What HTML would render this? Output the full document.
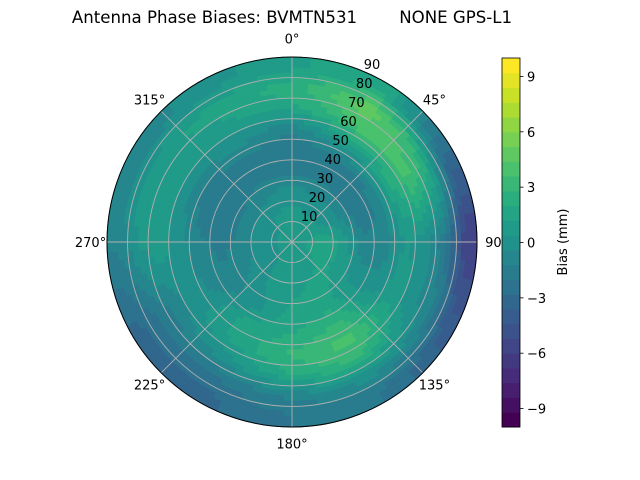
<!DOCTYPE html>
<html><head><meta charset="utf-8"><style>
body{margin:0;background:#fff;}
svg{display:block;font-family:"DejaVu Sans","Liberation Sans",sans-serif;}
</style></head><body>
<svg id="chart" width="640" height="480" viewBox="0 0 640 480">
<text x="292" y="23" font-size="16.6" text-anchor="middle" style="white-space:pre" xml:space="preserve">Antenna Phase Biases: BVMTN531        NONE GPS-L1</text>
<g id="plot"></g>
<g id="cbar"></g>
</svg>
<script>
// Data: azimuth (deg, clockwise from north), zenith ring centres (deg), bias values (mm)
const azimuths = [0,30,60,90,120,150,180,210,240,270,300,330];
const zeniths = [5,15,25,35,45,55,65,75,85];
const biasAz0   = [0.5,0.5,0,-1.5,-2,-1,1.5,2.5,1];
const biasAz30  = [0.5,0.5,-0.5,-1.5,-1.5,1,4,5,2];
const biasAz60  = [0.5,0.5,-0.5,-2,-1,2,4,2,-3];
const biasAz90  = [1,2,1,-1,-1,0.5,0,-2,-6];
const biasAz120 = [1,1.5,1,0,0,1,0,-1,-4];
const biasAz150 = [0.5,1,1.5,1.5,3,4,3,0,-2];
const biasAz180 = [0.5,1,1,1.5,2,3,2,-1,-2];
const biasAz210 = [0.5,0.5,0.5,0,1.5,1.5,0,-2,-3];
const biasAz240 = [0.5,0,-0.5,-1,-0.5,0,-1,-2,-3];
const biasAz270 = [0.5,0,-1,-1.5,-1,0,1,0.5,-1];
const biasAz300 = [0.5,0,-1,-2,-2,-0.5,1,1,-1];
const biasAz330 = [0.5,0.5,-0.5,-1.5,-1.5,0,1,1.5,0];
const biasGrid = [biasAz0,biasAz30,biasAz60,biasAz90,biasAz120,biasAz150,biasAz180,biasAz210,biasAz240,biasAz270,biasAz300,biasAz330];
const colorTicks = [-9,-6,-3,0,3,6,9];
const ringTicks = [10,20,30,40,50,60,70,80,90];
const angleTicks = [0,45,90,135,180,225,270,315];

const NS="http://www.w3.org/2000/svg";
const CX=292, CY=242, R=185, VMIN=-10, VMAX=10, NLEV=25;
const stops=["#440154","#482475","#414487","#355f8d","#2a788e","#21918c","#22a884","#44bf70","#7ad151","#bddf26","#fde725"];
function hex(c){return [1,3,5].map(i=>parseInt(c.substr(i,2),16));}
function viridis(t){t=Math.max(0,Math.min(1,t));const f=t*10,i=Math.min(9,Math.floor(f)),u=f-i;const a=hex(stops[i]),b=hex(stops[i+1]);return "rgb("+a.map((v,k)=>Math.round(v+(b[k]-v)*u)).join(",")+")";}
function levelColor(v){let i=Math.floor((v-VMIN)/((VMAX-VMIN)/NLEV));i=Math.max(0,Math.min(NLEV-1,i));return viridis(i/(NLEV-1));}
function rScale(z){return z/90*R;}
function pt(az,z){const a=az*Math.PI/180,r=rScale(z);return [CX+r*Math.sin(a),CY-r*Math.cos(a)];}
function sample(az,z){
  const n=azimuths.length, step=360/n;
  let fa=((az%360)+360)%360/step; const i0=Math.floor(fa)%n,i1=(i0+1)%n,ua=fa-Math.floor(fa);
  let fz=(z-zeniths[0])/(zeniths[1]-zeniths[0]); fz=Math.max(0,Math.min(zeniths.length-1,fz));
  const j0=Math.min(zeniths.length-2,Math.floor(fz)),uz=fz-j0;
  const v=(g,j)=>g[j]*(1-uz)+g[j+1]*uz;
  return v(biasGrid[i0],j0)*(1-ua)+v(biasGrid[i1],j0)*ua;
}
const plot=document.getElementById('plot');
const DA=3, DZ=2.5;
for(let az=0;az<360;az+=DA){
  for(let z=0;z<90;z+=DZ){
    const val=sample(az+DA/2,z+DZ/2);
    const p1=pt(az,z),p2=pt(az+DA,z),p3=pt(az+DA,z+DZ),p4=pt(az,z+DZ);
    const col=levelColor(val);
    const el=document.createElementNS(NS,'path');
    el.setAttribute('d',`M${p1}L${p2}L${p3}L${p4}Z`);
    el.setAttribute('fill',col);
    el.setAttribute('stroke',col);
    el.setAttribute('stroke-width','0.8');
    
    
    plot.appendChild(el);
  }
}
const gridG=document.createElementNS(NS,'g');
plot.appendChild(gridG);
angleTicks.forEach(a=>{
  const p=pt(a,90);
  const l=document.createElementNS(NS,'line');
  l.setAttribute('x1',CX);l.setAttribute('y1',CY);l.setAttribute('x2',p[0]);l.setAttribute('y2',p[1]);
  l.setAttribute('stroke','#b0b0b0');l.setAttribute('stroke-width','0.9');
  
  
  gridG.appendChild(l);
  const q=pt(a,98);
  const tx=document.createElementNS(NS,'text');
  tx.setAttribute('x',q[0]);tx.setAttribute('y',q[1]+5);tx.setAttribute('font-size','13');
  tx.setAttribute('text-anchor','middle');
  tx.textContent=a+'°';
  if(a===90){tx.textContent='90';tx.setAttribute('x',q[0]);}
  if(a===0){tx.setAttribute('y',q[1]+3);}
  
  
  gridG.appendChild(tx);
});
ringTicks.forEach(t=>{
  const c=document.createElementNS(NS,'circle');
  c.setAttribute('cx',CX);c.setAttribute('cy',CY);c.setAttribute('r',rScale(t));
  c.setAttribute('fill','none');c.setAttribute('stroke',t===90?'#000':'#b0b0b0');c.setAttribute('stroke-width',t===90?1:0.9);
  
  
  gridG.appendChild(c);
  const p=pt(22.5,t);
  const tx=document.createElementNS(NS,'text');
  tx.setAttribute('x',p[0]+1);tx.setAttribute('y',p[1]-2);tx.setAttribute('font-size','13');
  tx.textContent=t;
  
  
  gridG.appendChild(tx);
});
// colorbar
const cb=document.getElementById('cbar');
const BX=502,BW=18,BT=58,BB=427;
function cy(v){return BB-(v-VMIN)/(VMAX-VMIN)*(BB-BT);}
for(let i=0;i<NLEV;i++){
  const v0=VMIN+i*(VMAX-VMIN)/NLEV,v1=v0+(VMAX-VMIN)/NLEV;
  const r=document.createElementNS(NS,'rect');
  r.setAttribute('x',BX);r.setAttribute('y',cy(v1));r.setAttribute('width',BW);r.setAttribute('height',cy(v0)-cy(v1)+0.5);
  r.setAttribute('fill',viridis(i/(NLEV-1)));
  
  
  cb.appendChild(r);
}
const fr=document.createElementNS(NS,'rect');
fr.setAttribute('x',BX);fr.setAttribute('y',BT);fr.setAttribute('width',BW);fr.setAttribute('height',BB-BT);
fr.setAttribute('fill','none');fr.setAttribute('stroke','#000');fr.setAttribute('stroke-width','0.8');


cb.appendChild(fr);
colorTicks.forEach(v=>{
  const l=document.createElementNS(NS,'line');
  l.setAttribute('x1',BX+BW);l.setAttribute('x2',BX+BW+3.5);l.setAttribute('y1',cy(v));l.setAttribute('y2',cy(v));
  l.setAttribute('stroke','#000');l.setAttribute('stroke-width','0.8');
  
  
  cb.appendChild(l);
  const t=document.createElementNS(NS,'text');
  t.setAttribute('x',BX+BW+7);t.setAttribute('y',cy(v)+5);t.setAttribute('font-size','13');
  t.textContent=v<0?'\u2212'+(-v):v;
  
  
  cb.appendChild(t);
});
const lab=document.createElementNS(NS,'text');
lab.setAttribute('transform','translate(567,242) rotate(-90)');lab.setAttribute('text-anchor','middle');lab.setAttribute('font-size','13');
lab.textContent='Bias (mm)';


cb.appendChild(lab);
</script>
</body></html>
